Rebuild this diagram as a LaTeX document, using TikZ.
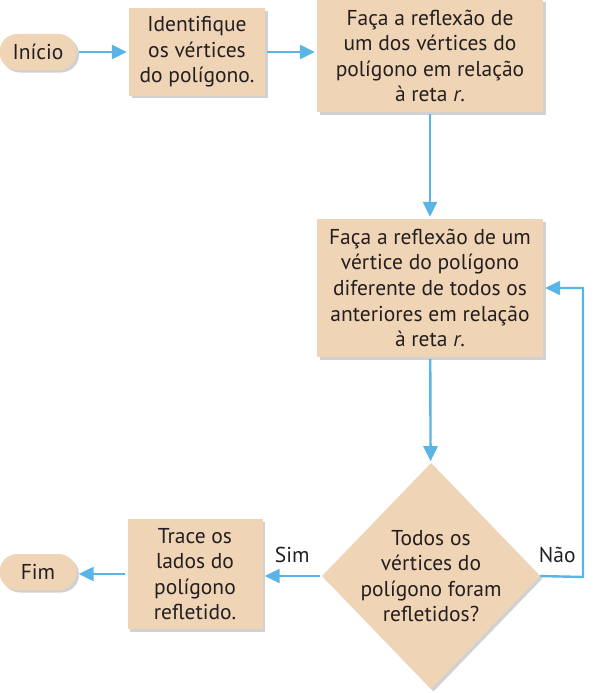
\documentclass[tikz,border=0pt]{standalone}
\usepackage{fontspec}
\setmainfont{PT Sans}
\usepackage{tikz}
\usetikzlibrary{arrows.meta,shapes.geometric,shadows,positioning}

\definecolor{bege}{HTML}{F0D4B6}
\definecolor{azul}{HTML}{5BB4E6}
\definecolor{texto}{HTML}{231F20}

\begin{document}
\begin{tikzpicture}[x=1pt,y=1pt,
        font=\fontsize{21.5}{25.6}\selectfont, text=texto,
        sombra/.style={drop shadow={shadow xshift=2.5pt,shadow yshift=-2.5pt,fill=black,opacity=0.18}},
        caixa/.style={fill=bege,sombra,align=center,inner sep=0pt},
        terminal/.style={fill=bege,sombra,rounded corners=18pt,minimum width=77pt,minimum height=36pt,inner sep=0pt},
        decisao/.style={diamond,fill=bege,sombra,inner sep=0pt,minimum width=218pt,minimum height=226pt},
        seta/.style={draw=azul,line width=2.4pt,-{Triangle[length=15pt,width=14pt]},shorten <=2pt,shorten >=2pt}]
            \useasboundingbox (0,0) rectangle (594,-693);

            \node[terminal] (inicio) at (38,-52) {Início};
            \node[caixa,minimum width=136pt,minimum height=87pt] (ident) at (197,-52) {Identifique\\os vértices\\do polígono.};
            \node[caixa,minimum width=226pt,minimum height=112pt] (refl) at (430,-56) {Faça a reflexão de\\um dos vértices do\\polígono em relação\\à reta \textit{r}.};
            \node[caixa,minimum width=226pt,minimum height=138pt] (outro) at (430,-288) {Faça a reflexão de um\\vértice do polígono\\diferente de todos os\\anteriores em relação\\à reta \textit{r}.};
            \node[decisao] (todos) at (431,-576) {};
            \node[align=center] at (todos.center) {Todos os\\vértices do\\polígono foram\\refletidos?};
            \node[caixa,minimum width=135pt,minimum height=110pt] (trace) at (195,-574) {Trace os\\lados do\\polígono\\refletido.};
            \node[terminal] (fim) at (38,-572) {Fim};

            \coordinate (volta) at (583,-577);

            \draw[seta] (inicio) -- (ident);
            \draw[seta] (ident.east) -- (ident.east -| refl.west);
            \draw[seta] (refl) -- (outro);
            \draw[seta] (outro) -- (todos);
            \draw[seta] (todos.west) -- node[above=9pt] {Sim} (todos.west -| trace.east);
            \draw[seta] (trace.west) -- (trace.west -| fim.east);
            \draw[seta,shorten <=0pt] (todos.east) -- node[above=9pt,pos=0.4] {Não} (volta) |- (outro.east);
        \end{tikzpicture}
\end{document}
